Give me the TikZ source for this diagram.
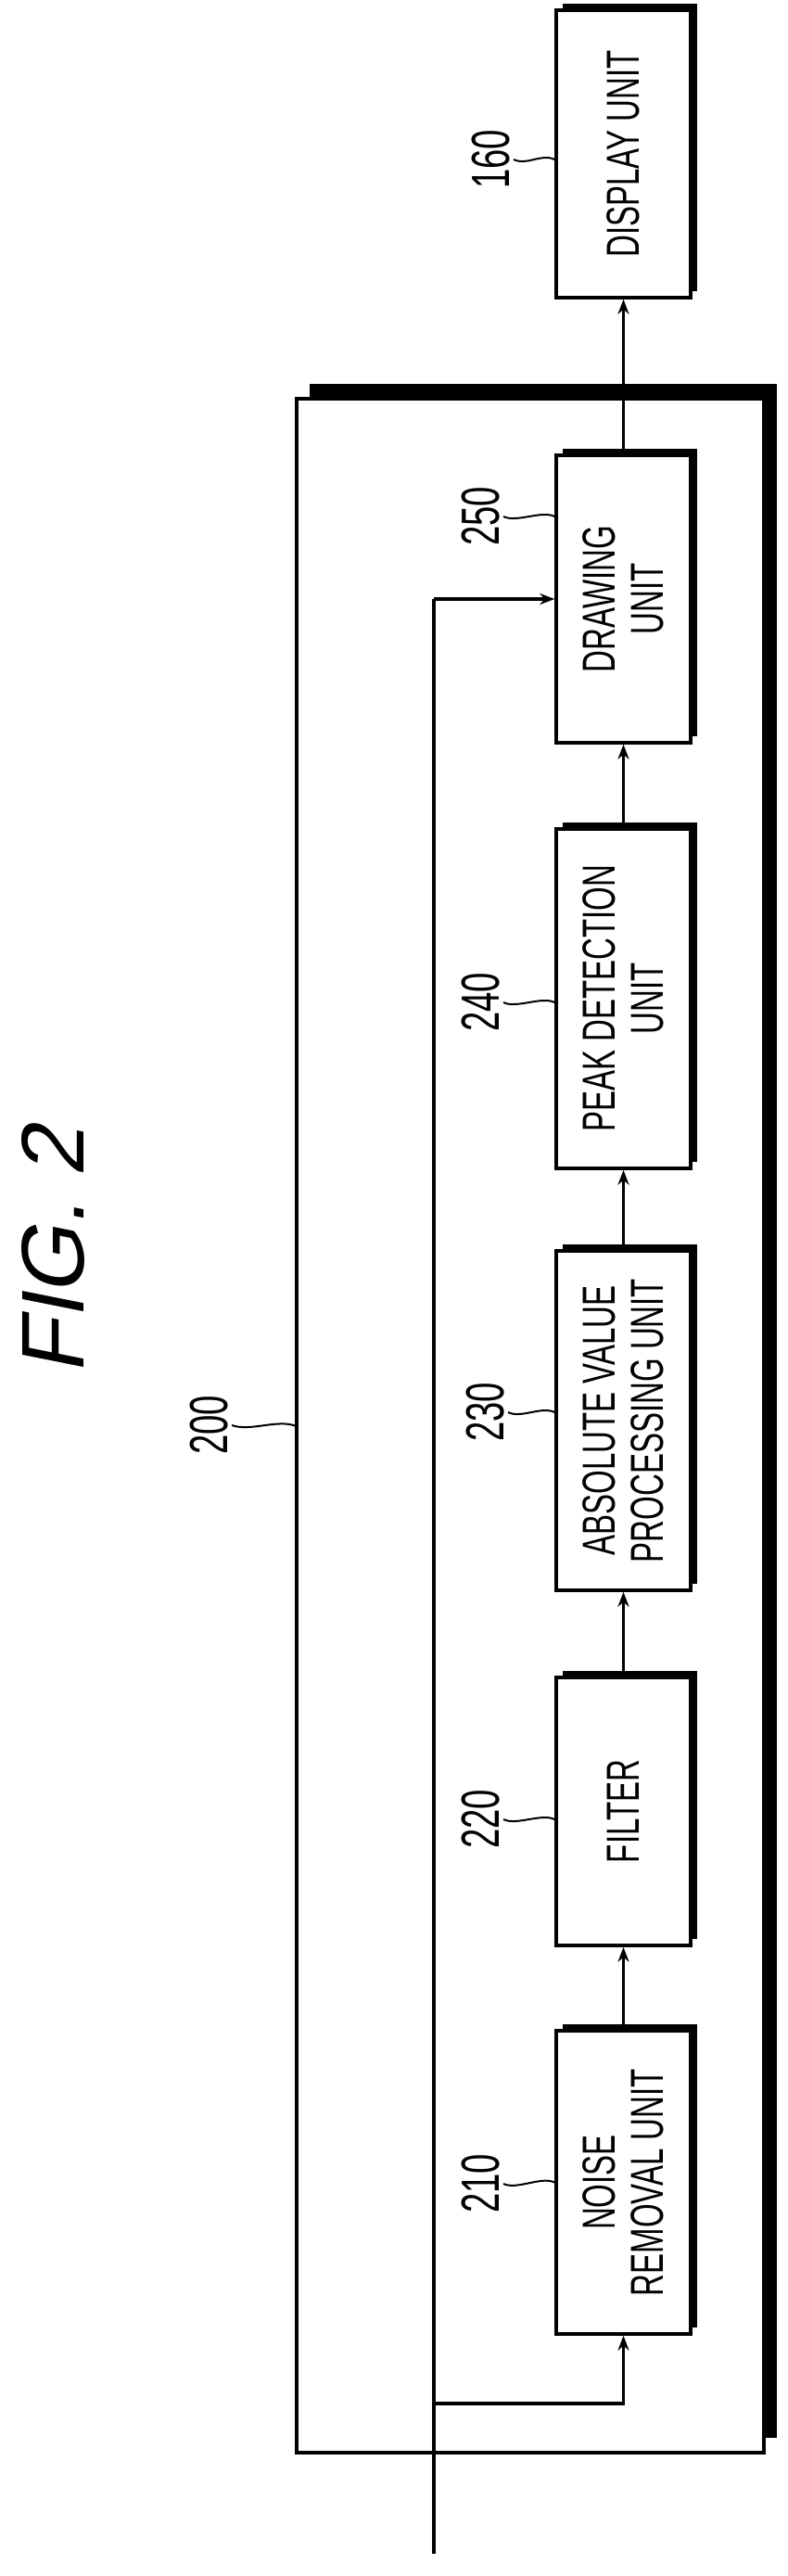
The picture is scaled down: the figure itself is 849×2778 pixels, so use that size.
\documentclass[tikz,border=0pt]{standalone}
\usepackage{fontspec}
\newfontfamily\narrowfont[FakeStretch=0.66]{Liberation Sans}
\newfontfamily\figfont[FakeSlant=0.2]{Liberation Sans}
\usetikzlibrary{arrows.meta,calc}
\tikzset{
  unit/.style={draw, line width=3.5pt, fill=white, rotate=90, minimum height=145pt,
    align=center, font=\narrowfont\fontsize{50}{52}\selectfont,
    preaction={fill=black, transform canvas={xshift=7pt, yshift=7pt}}},
  refnum/.style={rotate=90, font=\narrowfont\fontsize{58}{60}\selectfont},
  lead/.style={line width=2pt},
  flow/.style={line width=3.5pt, -{Stealth[length=16pt, width=12pt, open]}},
  wire/.style={line width=3.5pt}
}
\begin{document}
\begin{tikzpicture}[x=1pt, y=-1pt]
  \useasboundingbox (0,0) rectangle (849,2778);
  % title
  \node[rotate=90, font=\figfont\fontsize{96}{100}\selectfont] (fig) at (57,1349) {FIG. 2};
  % outer block
  \node[draw, line width=3.5pt, fill=white, minimum width=504pt, minimum height=2215pt,
    preaction={fill=black, transform canvas={xshift=14pt, yshift=16pt}}] (sys) at (572,1537.5) {};
  % units
  \node[unit, minimum width=310pt] (disp) at (672.5,166) {DISPLAY UNIT};
  \node[unit, minimum width=310pt] (drw) at (672.5,646) {DRAWING\\UNIT};
  \node[unit, minimum width=366pt] (peak) at (672.5,1077) {PEAK DETECTION\\UNIT};
  \node[unit, minimum width=366pt] (abs) at (672.5,1532) {ABSOLUTE VALUE\\PROCESSING UNIT};
  \node[unit, minimum width=289pt] (filt) at (672.5,1953.5) {FILTER};
  \node[unit, minimum width=327pt] (noise) at (672.5,2353.5) {NOISE\\REMOVAL UNIT};
  % reference numbers
  \node[refnum] (n160) at (530,172) {160};
  \node[refnum] (n250) at (519,557) {250};
  \node[refnum] (n240) at (519,1081) {240};
  \node[refnum] (n230) at (524,1523) {230};
  \node[refnum] (n220) at (519,1962) {220};
  \node[refnum] (n210) at (519,2355) {210};
  \node[refnum] (n200) at (226,1537) {200};
  \draw[lead] ($(disp.north)+(0,6)$) .. controls +(-14,-7) and +(14,7) .. (n160.south);
  \draw[lead] ($(drw.north)+(0,-89)$) .. controls +(-14,-7) and +(14,7) .. (n250.south);
  \draw[lead] ($(peak.north)+(0,4)$) .. controls +(-14,-7) and +(14,7) .. (n240.south);
  \draw[lead] ($(abs.north)+(0,-9)$) .. controls +(-14,-7) and +(14,7) .. (n230.south);
  \draw[lead] ($(filt.north)+(0,8.5)$) .. controls +(-14,-7) and +(14,7) .. (n220.south);
  \draw[lead] (noise.north) .. controls +(-14,-7) and +(14,7) .. (n210.south);
  \draw[lead] (sys.west) .. controls +(-20,-7) and +(20,7) .. (n200.south);
  % signal flow
  \coordinate (in) at (468,2754);
  \coordinate (split) at (468,2592);
  \draw[wire] (in) -- (468,646) coordinate (tap);
  \draw[flow] (tap) -- (drw.north);
  \draw[flow] (split) -| (noise.west);
  \draw[flow] (noise.east) -- (filt.west);
  \draw[flow] (filt.east) -- (abs.west);
  \draw[flow] (abs.east) -- (peak.west);
  \draw[flow] (peak.east) -- (drw.west);
  \draw[flow] (drw.east) -- (disp.west);
\end{tikzpicture}
\end{document}
